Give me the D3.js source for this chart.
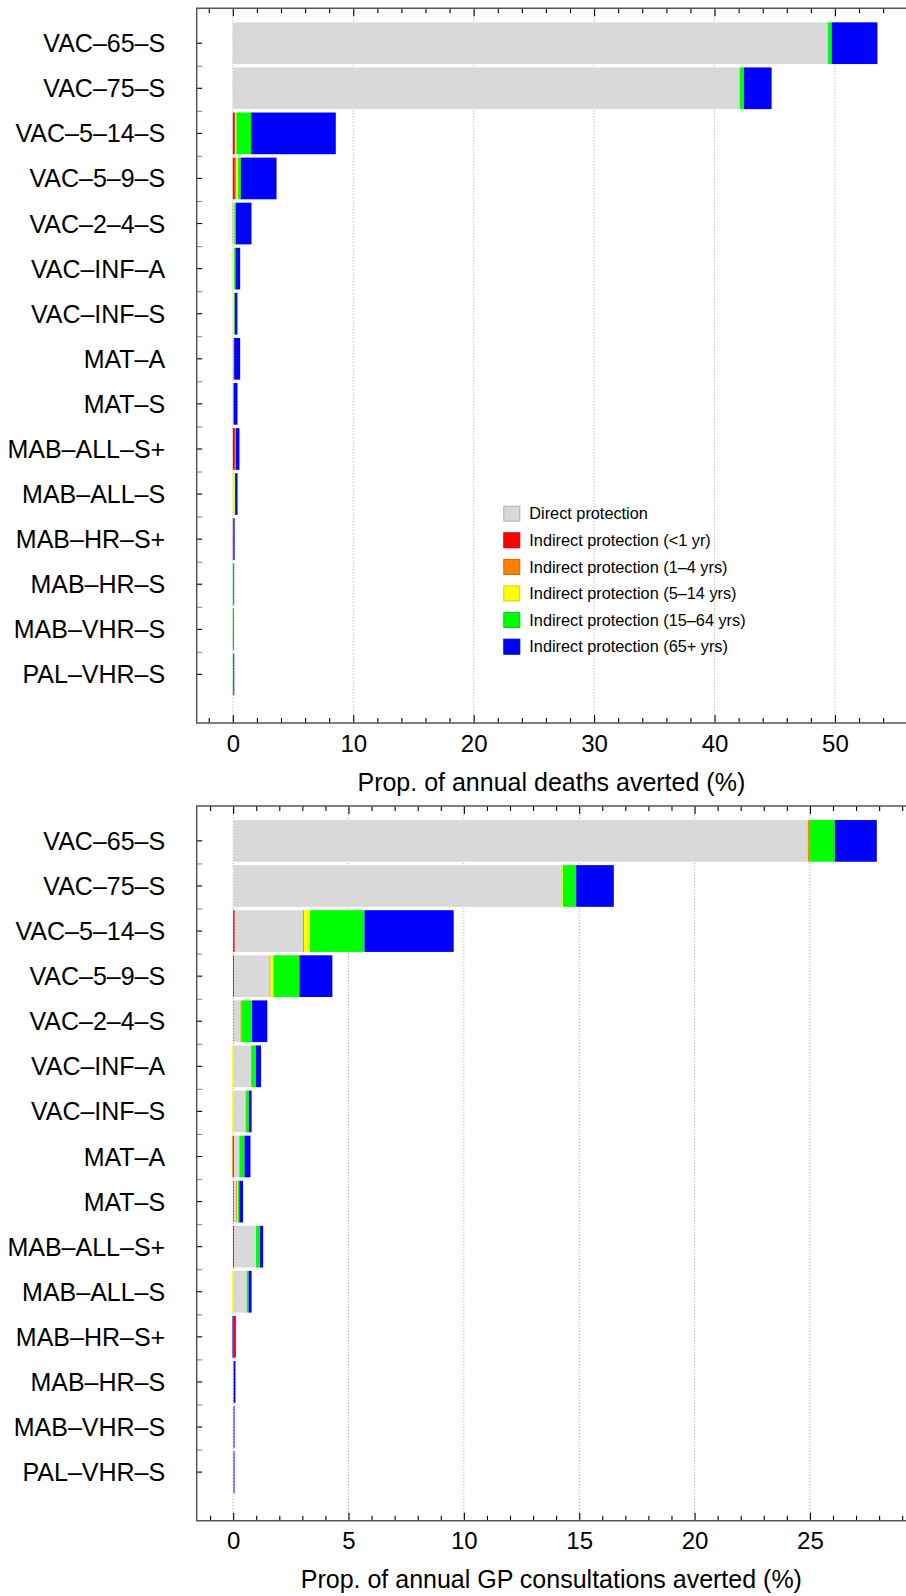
<!DOCTYPE html>
<html><head><meta charset="utf-8">
<script src="https://cdn.jsdelivr.net/npm/d3@7"></script>
<style>html,body{margin:0;padding:0;background:#fff;} svg{display:block;font-family:"Liberation Sans",Arial,Helvetica,sans-serif;}</style>
</head><body><svg id="chart" width="906" height="1596"></svg>
<script>
// ---------- data ----------
const categories = ["VAC–65–S","VAC–75–S","VAC–5–14–S","VAC–5–9–S","VAC–2–4–S","VAC–INF–A","VAC–INF–S","MAT–A","MAT–S","MAB–ALL–S+","MAB–ALL–S","MAB–HR–S+","MAB–HR–S","MAB–VHR–S","PAL–VHR–S"];
const seriesKeys = ["direct","lt1","y1_4","y5_14","y15_64","y65"];
const seriesLabels = ["Direct protection","Indirect protection (<1 yr)","Indirect protection (1–4 yrs)","Indirect protection (5–14 yrs)","Indirect protection (15–64 yrs)","Indirect protection (65+ yrs)"];
const seriesColors = ["#d9d9d9","#ff0000","#ff8000","#ffff00","#00ff00","#0000ff"];
const stackKeys = ["lt1","direct","y1_4","y5_14","y15_64","y65"];

// Prop. of annual deaths averted (%)
const deathsDirect = [49.4, 42.05, 0.02, 0.02, 0.02, 0, 0, 0, 0, 0, 0, 0, 0, 0, 0];
const deathsLt1    = [0, 0, 0.17, 0.17, 0.02, 0, 0, 0, 0, 0.17, 0, 0.02, 0, 0, 0];
const deaths1to4   = [0.03, 0.02, 0.03, 0.08, 0.03, 0, 0, 0, 0, 0, 0, 0.02, 0, 0, 0];
const deaths5to14  = [0, 0.02, 0.08, 0.17, 0.05, 0.11, 0.11, 0.04, 0.01, 0, 0.17, 0, 0, 0, 0];
const deaths15to64 = [0.3, 0.35, 1.22, 0.22, 0.13, 0.11, 0.05, 0.07, 0.08, 0.08, 0.02, 0, 0.06, 0.06, 0.05];
const deaths65plus = [3.8, 2.3, 7.03, 2.97, 1.3, 0.39, 0.22, 0.5, 0.3, 0.3, 0.2, 0.11, 0.05, 0.04, 0.07];

// Prop. of annual GP consultations averted (%)
const gpDirect = [24.91, 14.25, 2.96, 1.54, 0.3, 0.78, 0.54, 0.23, 0.1, 0.94, 0.59, 0, 0, 0, 0];
const gpLt1    = [0, 0, 0.07, 0.04, 0.02, 0, 0, 0.04, 0.03, 0.05, 0, 0.12, 0, 0, 0];
const gp1to4   = [0.06, 0.01, 0.04, 0.04, 0.05, 0, 0, -0.04, 0.04, 0, 0, 0, 0, 0, 0];
const gp5to14  = [0, 0.03, 0.26, 0.12, 0, -0.04, -0.04, 0, 0.04, 0, -0.04, 0, 0.02, 0, 0];
const gp15to64 = [1.11, 0.58, 2.36, 1.13, 0.45, 0.21, 0.14, 0.22, 0.06, 0.17, 0.08, 0, 0, 0.03, 0.03];
const gp65plus = [1.82, 1.63, 3.87, 1.43, 0.66, 0.22, 0.12, 0.26, 0.16, 0.14, 0.13, -0.03, 0.08, 0.03, 0.03];

const deathsTicksMajor = [0, 10, 20, 30, 40, 50];
const deathsTicksMinor = [-2, 2, 4, 6, 8, 12, 14, 16, 18, 22, 24, 26, 28, 32, 34, 36, 38, 42, 44, 46, 48, 52, 54];
const gpTicksMajor = [0, 5, 10, 15, 20, 25];
const gpTicksMinor = [-1, 1, 2, 3, 4, 6, 7, 8, 9, 11, 12, 13, 14, 16, 17, 18, 19, 21, 22, 23, 24, 26, 27, 28, 29];

// ---------- drawing ----------
const svg = d3.select("#chart");
const color = d3.scaleOrdinal().domain(seriesKeys).range(seriesColors);
const L = 196.7, R = 906, PH = 714.7;
const FONT = 25;

const panels = [
  { top: 8.3, title: "Prop. of annual deaths averted (%)", domain: [-3, 55.9],
    major: deathsTicksMajor, minor: deathsTicksMinor, legend: true,
    vals: [deathsDirect, deathsLt1, deaths1to4, deaths5to14, deaths15to64, deaths65plus] },
  { top: 806, title: "Prop. of annual GP consultations averted (%)", domain: [-1.58, 29.165],
    major: gpTicksMajor, minor: gpTicksMinor, legend: false,
    vals: [gpDirect, gpLt1, gp1to4, gp5to14, gp15to64, gp65plus] }
];

function styleAxis(sel, tickColor, fs) {
  sel.select(".domain").remove();
  sel.selectAll(".tick line").attr("stroke", tickColor).attr("stroke-width", 1.1);
  sel.selectAll(".tick text").attr("font-size", fs || FONT).attr("font-family", '"Liberation Sans",Arial,sans-serif').attr("fill", "#000");
}

panels.forEach(p => {
  const top = p.top, bottom = p.top + PH;
  const g = svg.append("g");
  const x = d3.scaleLinear().domain(p.domain).range([L, R]);
  const y = d3.scaleBand().domain(categories).range([top + 12.35, top + 688.65])
    .paddingInner(0.075).paddingOuter(0.0375);

  // grid
  g.append("g").selectAll("line").data(p.major).join("line")
    .attr("x1", d => x(d)).attr("x2", d => x(d))
    .attr("y1", top).attr("y2", bottom)
    .attr("stroke", "#a8a8a8").attr("stroke-width", 1).attr("stroke-dasharray", "1,2");

  // bars
  const rows = categories.map((c, i) => {
    const r = { cat: c };
    seriesKeys.forEach((k, j) => r[k] = p.vals[j][i]);
    return r;
  });
  const stacked = d3.stack().keys(stackKeys).offset(d3.stackOffsetDiverging)(rows);
  g.append("g").selectAll("g").data(stacked).join("g")
    .attr("fill", d => color(d.key))
    .selectAll("rect").data(d => d.filter(s => s[1] !== s[0])).join("rect")
    .attr("x", s => x(Math.min(s[0], s[1])))
    .attr("width", s => Math.abs(x(s[1]) - x(s[0])))
    .attr("y", s => y(s.data.cat))
    .attr("height", y.bandwidth());

  // x axes (bottom with labels, top ticks only)
  const ab = g.append("g").attr("transform", `translate(0,${bottom})`)
    .call(d3.axisBottom(x).tickValues(p.major).tickSize(-8).tickPadding(11.5).tickFormat(d3.format("d")));
  styleAxis(ab, "#000", 24);
  const abm = g.append("g").attr("transform", `translate(0,${bottom})`)
    .call(d3.axisBottom(x).tickValues(p.minor).tickSize(-5).tickFormat(""));
  styleAxis(abm, "#000");
  const at = g.append("g").attr("transform", `translate(0,${top})`)
    .call(d3.axisTop(x).tickValues(p.major).tickSize(-8).tickFormat(""));
  styleAxis(at, "#000");
  const atm = g.append("g").attr("transform", `translate(0,${top})`)
    .call(d3.axisTop(x).tickValues(p.minor).tickSize(-5).tickFormat(""));
  styleAxis(atm, "#000");

  // y axis
  const al = g.append("g").attr("transform", `translate(${L},0)`)
    .call(d3.axisLeft(y).tickSize(-5.5).tickPadding(31.5));
  styleAxis(al, "#000");
  al.selectAll(".tick text").attr("dy", "0.36em");
  const bounds = categories.slice(1).map((c, i) => (y(categories[i]) + y.bandwidth() + y(c)) / 2);
  const yId = d3.scaleLinear().domain([top, bottom]).range([top, bottom]);
  const alm = g.append("g").attr("transform", `translate(${L},0)`)
    .call(d3.axisLeft(yId).tickValues(bounds).tickSize(-5.5).tickFormat(""));
  styleAxis(alm, "#8c8c8c");

  // frame lines
  g.append("path").attr("d", `M${R},${top}H${L}V${bottom}H${R}`)
    .attr("fill", "none").attr("stroke", "#555").attr("stroke-width", 1.5);

  // axis title
  g.append("text").attr("x", (L + R) / 2).attr("y", bottom + 67.5)
    .attr("text-anchor", "middle").attr("font-size", FONT).attr("fill", "#000").text(p.title);

  // legend
  if (p.legend) {
    const lg = g.append("g").attr("transform", "translate(503.3,505.7)");
    const items = lg.selectAll("g").data(seriesKeys).join("g")
      .attr("transform", (d, i) => `translate(0,${i * 26.6})`);
    items.append("rect").attr("x", 0.5).attr("y", 0.5).attr("width", 16).attr("height", 15)
      .attr("fill", d => color(d))
      .attr("stroke", d => d3.color(color(d)).darker(0.6)).attr("stroke-width", 1);
    items.append("text").attr("x", 26).attr("y", 7.8).attr("dy", "0.36em")
      .attr("font-size", 16.3).attr("fill", "#000")
      .text((d, i) => seriesLabels[i]);
  }
});
</script>
</body></html>
